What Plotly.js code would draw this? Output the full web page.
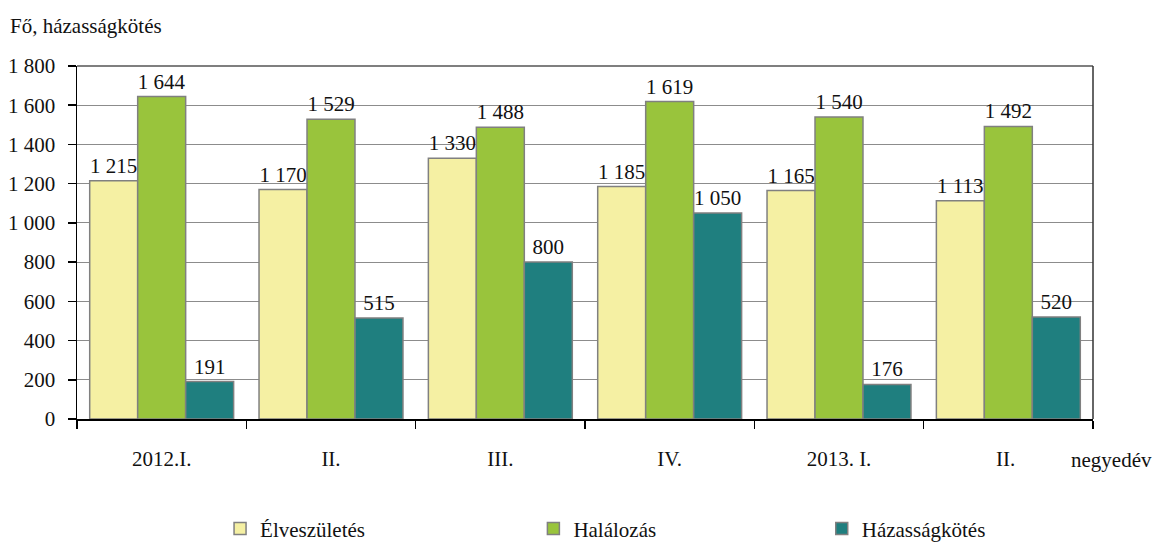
<!DOCTYPE html>
<html><head><meta charset="utf-8">
<script src="https://cdn.plot.ly/plotly-3.0.1.min.js"></script>
<style>html,body{margin:0;padding:0;background:#fff}#chart{width:1155px;height:543px}</style>
</head><body><div id="chart"></div>
<script>
const categories = ["2012.I.", "II.", "III.", "IV.", "2013. I.", "II. "];
const elveszuletes = [1215, 1170, 1330, 1185, 1165, 1113];
const halalozas = [1644, 1529, 1488, 1619, 1540, 1492];
const hazassagkotes = [191, 515, 800, 1050, 176, 520];
const seriesNames = ["Élveszületés", "Halálozás", "Házasságkötés"];
const colors = ["#F5F0A3", "#99C43C", "#1F7F7F"];
const yTicks = [0, 200, 400, 600, 800, 1000, 1200, 1400, 1600, 1800];

const font = {family: "'Liberation Serif', serif", size: 21, color: "#111"};
const vals = [elveszuletes, halalozas, hazassagkotes];
const legendIds = ["legend", "legend2", "legend3"];
const traces = vals.map((v, i) => ({
  type: "bar", x: categories, y: v, name: seriesNames[i], legend: legendIds[i],
  marker: {color: colors[i], line: {color: "#808080", width: 1.5}},
  texttemplate: "%{y:,d}", textposition: "outside", cliponaxis: false,
  textfont: font, hoverinfo: "skip"
}));

const legendBase = {orientation: "h", xanchor: "left", y: -0.311, yanchor: "middle", font: font, bgcolor: "rgba(0,0,0,0)"};
const layout = {
  width: 1155, height: 543,
  margin: {l: 77, r: 62, t: 66, b: 124, autoexpand: false},
  separators: ". ",
  font: font,
  barmode: "group", bargap: 0.15, bargroupgap: 0,
  plot_bgcolor: "#fff", paper_bgcolor: "#fff",
  xaxis: {type: "category", tickson: "boundaries", ticks: "outside", ticklen: 8, tickcolor: "#000", tickwidth: 1.5,
          showline: true, linecolor: "#000", linewidth: 1.5, showgrid: false, tickfont: font, fixedrange: true,
          ticklabelstandoff: 20, automargin: false},
  yaxis: {range: [0, 1800], tickvals: yTicks, tickformat: ",d", ticks: "outside", ticklen: 8, tickcolor: "#000", tickwidth: 1.5,
          showline: true, linecolor: "#000", linewidth: 1.5, gridcolor: "#8c8c8c", gridwidth: 1.2, zeroline: false,
          tickfont: font, fixedrange: true, ticklabelstandoff: 8, automargin: false},
  showlegend: true,
  legend: Object.assign({x: 0.1408}, legendBase),
  legend2: Object.assign({x: 0.4492}, legendBase),
  legend3: Object.assign({x: 0.733}, legendBase),
  shapes: [
    {type: "line", xref: "paper", yref: "paper", x0: 0, x1: 1, y0: 1, y1: 1, line: {color: "#555", width: 1.5}},
    {type: "line", xref: "paper", yref: "paper", x0: 1, x1: 1, y0: 0, y1: 1, line: {color: "#333", width: 1.5}}
  ],
  annotations: [
    {text: "Fő, házasságkötés", xref: "paper", yref: "paper", x: -0.068, y: 1.113, xanchor: "left", yanchor: "middle", showarrow: false, font: font},
    {text: "negyedév", xref: "paper", yref: "paper", x: 0.976, y: -0.116, xanchor: "left", yanchor: "middle", showarrow: false, font: font}
  ]
};
Plotly.newPlot("chart", traces, layout, {displayModeBar: false, staticPlot: true});
</script></body></html>
